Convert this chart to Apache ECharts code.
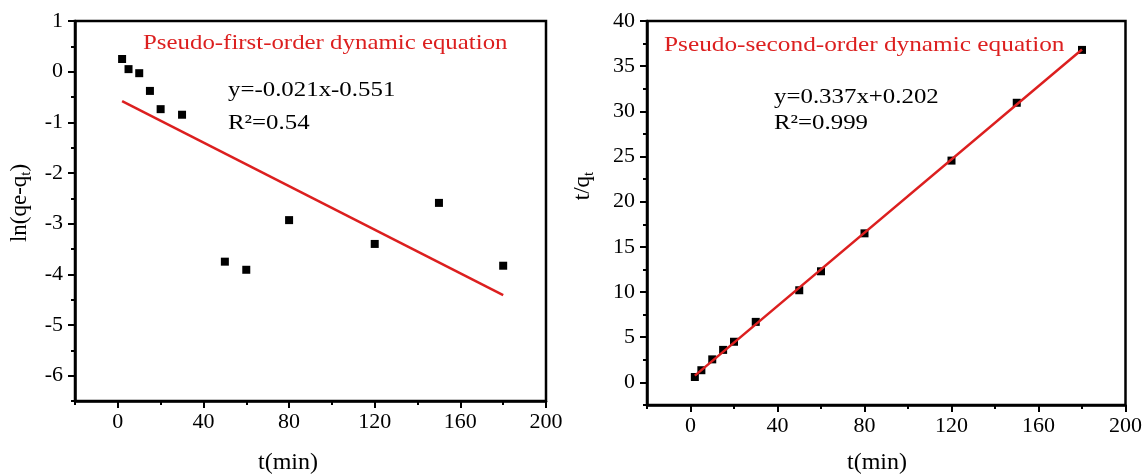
<!DOCTYPE html>
<html>
<head>
<meta charset="utf-8">
<script src="https://cdn.jsdelivr.net/npm/echarts@6/dist/echarts.min.js"></script>
<style>html,body{margin:0;padding:0;background:#fff}#c{width:1145px;height:475px}</style>
</head>
<body>
<div id="c"></div>
<script>
// ---- data ----
var times = [2, 5, 10, 15, 20, 30, 50, 60, 80, 120, 150, 180];
var lnQ = [0.25, 0.05, -0.03, -0.38, -0.74, -0.85, -3.75, -3.91, -2.93, -3.40, -2.59, -3.83];
var tOverQ = [0.6, 1.35, 2.55, 3.6, 4.5, 6.7, 10.2, 12.3, 16.5, 24.55, 30.95, 36.8];
var fit1 = [[2, -0.58], [180, -4.41]];
var fit2 = [[2, 0.75], [180, 36.85]];
var xTickLabels = [0, 40, 80, 120, 160, 200];
var y1TickLabels = [-6, -5, -4, -3, -2, -1, 0, 1];
var y2TickLabels = [0, 5, 10, 15, 20, 25, 30, 35, 40];
var texts = {
  title1: 'Pseudo-first-order dynamic equation',
  eq1: 'y=-0.021x-0.551',
  r1: 'R²=0.54',
  title2: 'Pseudo-second-order dynamic equation',
  eq2: 'y=0.337x+0.202',
  r2: 'R²=0.999'
};

var FONT = '"Liberation Serif", "Times New Roman", serif';
var RED = '#dc1f1f';
var CLEAR = 'rgba(0,0,0,0)';

// main axis: labels on the labelled values, short ticks at every half step
function xMain(grid) {
  return {
    type: 'value', gridIndex: grid, min: -20, max: 200, interval: 20, position: 'bottom',
    axisLine: { show: true, onZero: false, lineStyle: { color: '#000', width: 2.5 } },
    axisTick: { show: true, inside: false, length: 4, lineStyle: { color: '#000', width: 2 } },
    axisLabel: { customValues: xTickLabels, margin: 10, fontFamily: FONT, fontSize: 22, color: '#000' },
    splitLine: { show: false }
  };
}
// overlay axis: longer ticks on the labelled values only
function xMajor(grid) {
  return {
    type: 'value', gridIndex: grid, min: -20, max: 200, interval: 20, position: 'bottom', offset: 0,
    axisLine: { show: true, onZero: false, lineStyle: { color: CLEAR, width: 1 } },
    axisTick: { show: true, inside: false, length: 7, customValues: xTickLabels, lineStyle: { color: '#000', width: 2 } },
    axisLabel: { show: false }, splitLine: { show: false }
  };
}
function yMain(grid, min, max, iv, labels) {
  return {
    type: 'value', gridIndex: grid, min: min, max: max, interval: iv, position: 'left',
    axisLine: { show: true, onZero: false, lineStyle: { color: '#000', width: 2.5 } },
    axisTick: { show: true, inside: false, length: 4, lineStyle: { color: '#000', width: 2 } },
    axisLabel: { customValues: labels, margin: 12, fontFamily: FONT, fontSize: 22, color: '#000' },
    splitLine: { show: false }
  };
}
function yMajor(grid, min, max, iv, labels) {
  return {
    type: 'value', gridIndex: grid, min: min, max: max, interval: iv, position: 'left', offset: 0,
    axisLine: { show: true, onZero: false, lineStyle: { color: CLEAR, width: 1 } },
    axisTick: { show: true, inside: false, length: 7, customValues: labels, lineStyle: { color: '#000', width: 2 } },
    axisLabel: { show: false }, splitLine: { show: false }
  };
}
function pairs(xs, ys) { return xs.map(function (x, i) { return [x, ys[i]]; }); }

function txt(x, y, text, size, color, sx) {
  return { type: 'text', x: x, y: y, scaleX: sx || 1.13, z: 100,
    style: { text: text, fill: color, font: size + 'px ' + FONT, verticalAlign: 'middle', align: 'left' } };
}

var chart = echarts.init(document.getElementById('c'), null, { renderer: 'canvas' });
chart.setOption({
  backgroundColor: '#fff',
  animation: false,
  grid: [
    { left: 75, top: 21, width: 471, height: 380, show: true, borderColor: '#000', borderWidth: 2.5, backgroundColor: 'transparent' },
    { left: 647, top: 21, width: 479, height: 384, show: true, borderColor: '#000', borderWidth: 2.5, backgroundColor: 'transparent' }
  ],
  xAxis: [xMain(0), xMajor(0), xMain(1), xMajor(1)],
  yAxis: [
    yMain(0, -6.5, 1, 0.5, y1TickLabels), yMajor(0, -6.5, 1, 0.5, y1TickLabels),
    yMain(1, -2.5, 40, 2.5, y2TickLabels), yMajor(1, -2.5, 40, 2.5, y2TickLabels)
  ],
  series: [
    { type: 'line', xAxisIndex: 0, yAxisIndex: 0, data: fit1, showSymbol: false, lineStyle: { color: RED, width: 2.5 }, z: 2 },
    { type: 'scatter', xAxisIndex: 0, yAxisIndex: 0, data: pairs(times, lnQ), symbol: 'rect', symbolSize: 8, itemStyle: { color: '#000', opacity: 1 }, z: 3 },
    { type: 'line', xAxisIndex: 2, yAxisIndex: 2, data: fit2, showSymbol: false, lineStyle: { color: RED, width: 2.5 }, z: 3 },
    { type: 'scatter', xAxisIndex: 2, yAxisIndex: 2, data: pairs(times, tOverQ), symbol: 'rect', symbolSize: 8, itemStyle: { color: '#000', opacity: 1 }, z: 2 }
  ],
  graphic: [
    txt(143, 43, texts.title1, 22, RED),
    txt(228, 90, texts.eq1, 22, '#000'),
    txt(228, 123, texts.r1, 22, '#000'),
    txt(664, 45, texts.title2, 22, RED, 1.15),
    txt(774, 97, texts.eq2, 22, '#000'),
    txt(774, 123, texts.r2, 22, '#000'),
    { type: 'text', x: 288, y: 463, z: 100, style: { text: 't(min)', fill: '#000', font: '24px ' + FONT, align: 'center', verticalAlign: 'middle' } },
    { type: 'text', x: 877, y: 463, z: 100, style: { text: 't(min)', fill: '#000', font: '24px ' + FONT, align: 'center', verticalAlign: 'middle' } },
    { type: 'text', x: 20, y: 203, rotation: Math.PI / 2, z: 100,
      style: { text: '{a|ln(qe-q}{s|t}{a|)}', align: 'center', verticalAlign: 'middle',
        rich: { a: { fontFamily: FONT, fontSize: 23, color: '#000' }, s: { fontFamily: FONT, fontSize: 15, color: '#000', padding: [12, 0, 0, 0] } } } },
    { type: 'text', x: 583, y: 186, rotation: Math.PI / 2, z: 100,
      style: { text: '{a|t/q}{s|t}', align: 'center', verticalAlign: 'middle',
        rich: { a: { fontFamily: FONT, fontSize: 23, color: '#000' }, s: { fontFamily: FONT, fontSize: 15, color: '#000', padding: [12, 0, 0, 0] } } } }
  ]
});
</script>
</body>
</html>
